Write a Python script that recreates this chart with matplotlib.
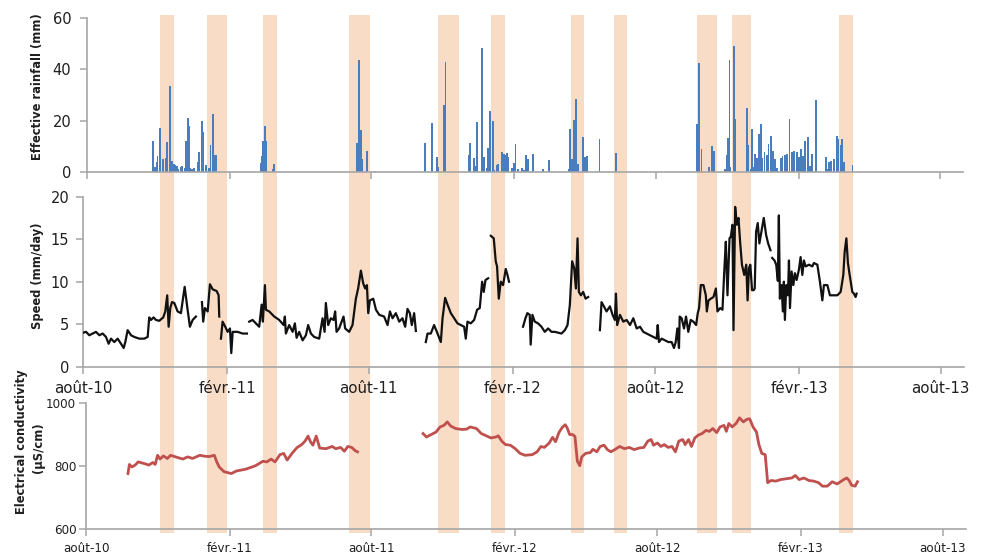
import numpy as np
import matplotlib
matplotlib.use('Agg')
import matplotlib.pyplot as plt
import matplotlib.dates as mdates
from matplotlib.patches import Rectangle
from matplotlib.transforms import blended_transform_factory

plt.rcParams['font.family'] = ['DejaVu Sans']

nan = np.nan
START = np.datetime64('2010-08-01')
SPAN_DAYS = 1126

tick_dates = ['2010-08-01', '2011-02-01', '2011-08-01', '2012-02-01',
              '2012-08-01', '2013-02-01', '2013-08-01']
tick_labels = ['août-10', 'févr.-11', 'août-11', 'févr.-12',
               'août-12', 'févr.-13', 'août-13']

# Highlighted periods (days since 2010-08-01)
band_start = [95, 155, 226, 337, 451, 518, 620, 676, 782, 826, 963]
band_end = [113, 181, 244, 363, 477, 536, 637, 692, 808, 851, 982]

# Effective rainfall (days since 2010-08-01, mm)
rain_days = [85, 88, 90, 91, 94, 98, 102, 103, 107, 110, 112, 114, 116, 118, 121, 123, 126, 128,
             130, 131, 133, 135, 138, 143, 144, 145, 148, 150, 153, 157, 159, 162, 164, 166,
             224, 225, 227, 229, 230, 239, 241, 347, 350, 352, 354, 360, 371,
             435, 444, 450, 451, 459, 461, 491, 493, 498, 500, 502, 508, 510, 514, 516, 518,
             522, 524, 527, 528, 534, 536, 538, 540, 542, 547, 549, 551, 554, 559, 562, 565,
             567, 574, 586, 594, 620, 621, 624, 626, 629, 631, 638, 640, 643, 659, 680,
             784, 787, 790, 800, 803, 804, 806, 820, 823, 824, 826, 827, 832, 833, 849, 850,
             853, 855, 857, 859, 861, 864, 866, 868, 871, 874, 876, 879, 882, 884, 887, 892,
             894, 897, 900, 903, 906, 909, 913, 915, 918, 920, 923, 927, 929, 932, 937, 950,
             952, 954, 956, 960, 964, 966, 969, 971, 973, 984]
rain_mm = [12.2, 2, 4, 6.2, 17.1, 5, 5.6, 11.6, 33.4, 4.4, 3, 2.7, 2.3, 1.3, 1.8, 2.3, 1.5, 12,
           20.9, 18, 1.4, 1, 1.7, 3.8, 7.7, 6.9, 20, 15.6, 2.7, 1.4, 10.6, 22.5, 6.5, 6.5,
           3.6, 6.1, 12, 17.9, 12, 1, 3, 11.2, 43.5, 16.2, 5, 8.2, 0.4,
           11.2, 19.1, 5.7, 2, 26.1, 43, 6.5, 11.4, 5.5, 2.3, 19.4, 48.3, 6, 1.6, 9.2, 23.9,
           19.7, 0.8, 2.7, 3.1, 7.7, 7, 6.5, 7.4, 6, 1.6, 3.4, 10.8, 1.3, 1.6, 0.8, 6.5,
           5.2, 6.9, 1, 4.5, 1.2, 16.8, 5, 20.3, 28.6, 3.2, 13.8, 6, 6.2, 12.9, 7.3,
           18.7, 42.3, 8.8, 1.8, 10.3, 3.9, 8.3, 1.3, 6.8, 13.1, 43.5, 2.1, 49, 20.5, 24.9, 10.5,
           1, 16.9, 2.1, 6.9, 5.6, 14.9, 18.6, 5.3, 7.9, 6.6, 10.8, 13.9, 8.2, 4.9, 1.6, 5.5,
           6.4, 6.5, 7, 20.5, 7.9, 8.3, 7.8, 6, 8.8, 6.2, 11.9, 13.5, 2.3, 7, 27.9, 5.8,
           1.2, 3.9, 4.4, 5.1, 14.2, 12.7, 10.6, 12.9, 3.9, 2.7]

# Speed (days since 2010-08-01, mm/day); nan marks data gaps
speed_days = [0, 3.5, 7.7, 12, 16.2, 20.5, 24.8, 29, 32.4, 35.4, 39.6, 43.9, 48.2, 51.6, 53.7,
              56.7, 61, 65.2, 71.6, 78, 82.3, 84.3, 86.5, 89.9, 92.9, 97.1, 102.2, 104.8, 107.3,
              109.1, 111.2, 113.4, 116.3, 120.6, 124.8, 129.6, 132.5, 136.3, 139.8, 144, nan,
              151.7, 153.3, 155.5, 159, 161.9, 165.4, 170.5, 173, 173.8, nan,
              176, 178.1, 181.5, 184.5, 187.5, 189.2, 191, 197.3, 203.7, 209.2, nan,
              212.1, 216.4, 220.7, 224.9, 228, 229.6, 232.2, 233.5, 237.7, 244.1, 250.5, 256.1,
              257.7, 259, 263.2, 267.6, 270.5, 272.7, 276, 280.4, 284.6, 287.5, 291, 295.2,
              301.6, 305.9, 308.5, 310.1, 313.1, 316.5, 320, 322, 323.8, 327.1, 332.7, 334.8,
              339.9, 344.2, 348.5, 351.4, 354.9, 357.9, 360.4, 362.6, 364.3, 366.4, 370.7, 374.2,
              378.4, 384.6, 389, 392, 395.4, 399.6, 403.9, 408.1, 411.5, 414.5, 417.5, 420, 423,
              425.2, nan,
              437.9, 440.1, 444.3, 448.5, 452.9, 457.1, 459.3, 462.6, 465.7, 469.9, 474.2, 478.4,
              482.7, 486.9, 489, 491.2, 495.4, 499.7, 503.5, 506.9, 509.9, 512, 514.2, 517.6, nan,
              521, 524.8, 527.3, 529, 531.2, 533.7, 536.7, 540.1, 542.3, 544.3, nan,
              562.2, 565.3, 567.8, 570.8, 572, 574.2, 577.2, 581.4, 585.8, 590, 594.3, 598.6,
              602.9, 607.1, 611.4, 615.7, 619.1, 622.1, 625, 627.6, 629.8, 631.9, 633.6, 636.2,
              639.1, 642.2, 645.5, nan,
              660.5, 662.6, 665.6, 669, 673.3, 676.7, 679.6, 681, 682.6, 686.1, 690.4, 694.7,
              699, 703.2, 707.5, 711.8, 716, 720.3, 724.5, 728.8, 733.1, 734.4, 736, 739.5,
              743.7, 748, 752.2, 755.2, 757.4, 759.5, 761.6, 762.5, 765, 768, 770.6, 773.5,
              776.6, 780, 783.5, 785.6, 787.3, 789.5, 792.9, 795.9, 797.2, 799.3, 802.3, 805.7,
              808.8, 810.8, 814.3, 817.2, 819.8, 821.5, 823.6, 826.2, 827.9, 830, 831.3, 833.4,
              835.6, 837.7, 839.9, 842.1, 845, 847.6, 849.3, 851.1, 852.8, 855, 857.1, 858.4,
              860.2, 862.3, 864.4, 866.6, 870, 873, 875.6, 878.6, nan,
              880.7, 883.7, 885.9, 888, 889.3, 890.6, 892.7, 894.4, 895.7, 897, 898.8, 900.9,
              902.2, 903.5, 905.6, 907.8, 909.8, 912, 914.9, 917.1, 919.3, 921.3, 923.5, 927.8,
              932.1, 934.1, 938.5, 941.8, 944.9, 946.9, 951.3, 954.6, 959.7, 964.1, 968.3, 971.7,
              973.4, 975.6, 977.6, 979.8, 981.9, 983.2, 985.2, 987.4, 988.7]
speed_mmday = [4.0, 4.1, 3.7, 3.9, 4.1, 3.7, 3.9, 3.5, 2.7, 3.3, 2.9, 3.3, 2.7, 2.2, 2.9,
               4.3, 3.7, 3.5, 3.3, 3.3, 3.5, 5.8, 5.5, 5.8, 5.5, 5.4, 5.8, 6.5, 8.4,
               4.7, 6.9, 7.6, 7.5, 6.5, 6.3, 9.4, 7.3, 4.7, 5.5, 5.9, nan,
               7.6, 5.3, 6.9, 6.5, 9.7, 9.1, 8.9, 8.4, 5.9, nan,
               3.3, 5.3, 4.7, 4.1, 4.5, 1.6, 4.1, 4.1, 3.9, 3.9, nan,
               5.3, 5.5, 5.1, 4.7, 7.3, 5.3, 9.6, 6.7, 6.5, 5.9, 5.5, 4.9,
               5.9, 3.9, 4.9, 4.1, 5.1, 3.4, 4.1, 3.1, 3.7, 4.9, 3.9, 3.5,
               3.3, 5.7, 4.1, 7.5, 4.9, 5.7, 5.5, 6.5, 4.1, 4.5, 5.9, 4.5,
               4.1, 4.9, 8.0, 9.2, 11.3, 9.8, 9.2, 9.6, 6.3, 7.8, 8.0, 6.7,
               6.1, 5.9, 4.9, 6.5, 5.7, 6.3, 5.3, 5.7, 4.7, 6.8, 6.3, 4.9, 6.3,
               4.2, nan,
               2.9, 3.9, 3.9, 4.9, 3.9, 2.9, 5.7, 8.1, 7.3, 6.3, 5.7, 5.1,
               4.9, 4.7, 3.3, 5.3, 5.1, 5.5, 6.7, 6.9, 10.0, 8.8, 10.2, 10.4, nan,
               15.4, 15.1, 12.4, 11.8, 8.0, 10.0, 9.6, 11.5, 10.8, 10.0, nan,
               4.7, 5.7, 6.3, 6.1, 2.6, 6.1, 5.3, 5.1, 4.7, 4.1, 4.5, 4.1,
               4.1, 4.0, 3.9, 4.3, 4.9, 7.3, 12.4, 11.6, 9.2, 15.1, 8.8, 8.4,
               8.8, 8.0, 8.2, nan,
               4.3, 7.6, 7.1, 6.5, 7.1, 6.1, 5.5, 8.6, 4.9, 6.1, 5.3, 5.5,
               4.9, 5.7, 4.5, 4.7, 4.1, 3.9, 3.7, 3.5, 3.3, 4.9, 2.9, 3.3,
               3.1, 2.9, 2.9, 2.2, 2.9, 4.5, 2.2, 5.9, 5.7, 4.5, 5.9, 4.1,
               5.5, 5.3, 4.9, 6.3, 6.9, 9.6, 9.6, 8.4, 6.5, 7.8, 8.0, 8.2,
               9.2, 6.5, 6.9, 6.7, 11.8, 14.7, 8.4, 15.1, 15.3, 16.7, 4.3, 18.8,
               16.7, 17.5, 14.5, 12.0, 10.8, 12.0, 7.8, 11.6, 12.0, 9.0, 9.0, 9.2,
               15.9, 16.9, 14.5, 15.7, 17.5, 15.5, 14.5, 13.7, nan,
               12.8, 12.5, 12.0, 10.1, 17.8, 8.0, 9.6, 6.5, 10.0, 5.5, 9.6, 8.4,
               12.5, 6.9, 11.2, 9.6, 11.0, 10.2, 11.4, 12.9, 10.8, 12.5, 11.8, 12.0,
               11.8, 12.2, 12.0, 10.0, 7.8, 9.6, 9.6, 8.4, 8.4, 8.4, 8.8, 10.8,
               13.5, 15.1, 12.2, 10.8, 9.6, 8.8, 8.6, 8.2, 8.6]

# Electrical conductivity (days since 2010-08-01, uS/cm)
ec_days = [53.7, 55.5, 58.7, 63, 66.7, 74.2, 80.4, 85.4, 88.5, 91.6, 94.7, 99, 104, 108.3,
           114.5, 123.9, 130.1, 136.3, 145.6, 151.8, 158, 164.2, 167.3, 170.4, 176.6, 186,
           192.2, 204.6, 217, 226.3, 231.3, 236.9, 241.8, 245, 248.1, 253, 257.4, 263.6,
           269.8, 276, 280.3, 284.1, 287.2, 290.3, 294.6, 299, 307, 315.1, 319.5, 325.7,
           330.6, 335, 340, 344.3, 347.4, nan,
           431.3, 435.6, 441.8, 448, 453, 458, 462.3, 466.6, 472.9, 480.9, 487.1, 491.5,
           499.6, 505.8, 512, 518.2, 524.4, 527.5, 531.9, 536.8, 543, 549.2, 555.5, 561.7,
           571, 577.2, 582.1, 586.5, 592.7, 597, 600.8, 605.1, 609.5, 613.2, 615.7, 618.8,
           622.5, 625.6, 628.7, 631.8, 634.3, 639.3, 645.5, 648.6, 653.6, 657.9, 662.9,
           667.2, 671.6, 676.5, 682.8, 689, 695.2, 701.4, 707.6, 713.8, 718.8, 723.1, 726.2,
           731.2, 735.5, 739.9, 744.9, 749.8, 754.2, 758.5, 763.5, 766.6, 771, 774.7, 779,
           783.4, 788.3, 793.3, 797.6, 802, 807, 811.3, 816.3, 819.4, 822.5, 826.8, 831.8,
           836.2, 841.1, 845.5, 849.2, 853.5, 857.9, 861, 864.7, 869.1, 872.2, 876.5, 882.7,
           888.9, 897, 903.2, 907.6, 912.5, 918.7, 924.9, 931.2, 937.4, 942.3, 948.5, 954.8,
           961, 965.3, 969.7, 973.4, 976.5, 979.6, 984, 987.1]
ec_uscm = [776, 805, 797, 803, 813, 808, 803, 811, 805, 834, 822, 832, 824, 834,
           829, 822, 829, 824, 834, 831, 830, 834, 813, 797, 782, 776,
           784, 790, 801, 815, 813, 822, 813, 824, 836, 840, 819, 840,
           858, 868, 879, 895, 877, 866, 895, 857, 855, 862, 855, 859,
           847, 862, 859, 849, 845, nan,
           903, 892, 900, 908, 924, 929, 940, 927, 919, 916, 917, 924,
           919, 903, 896, 889, 892, 896, 879, 868, 866, 855, 840, 834,
           836, 845, 862, 859, 873, 891, 877, 906, 923, 931, 921, 900,
           900, 894, 815, 801, 829, 840, 843, 853, 845, 862, 866,
           852, 845, 852, 862, 855, 859, 852, 857, 859, 879, 884, 866,
           873, 862, 868, 859, 862, 845, 879, 884, 868, 884, 862, 889,
           898, 903, 913, 910, 919, 906, 924, 929, 910, 935, 924, 935,
           953, 940, 948, 950, 924, 908, 868, 840, 836, 747, 754, 752,
           757, 760, 762, 770, 757, 762, 754, 752, 747, 736, 736, 750,
           743, 750, 757, 762, 754, 739, 736, 750]

W, H = 985, 556
fig = plt.figure(figsize=(W / 100, H / 100), dpi=100)

def px_axes(left, right, bottom, top):
    return fig.add_axes([left / W, 1 - bottom / H, (right - left) / W, (bottom - top) / H])

ax1 = px_axes(86.7, 963, 172, 18)
ax2 = px_axes(83.3, 964, 366.7, 196.7)
ax3 = px_axes(86, 966, 529, 403)

x0 = mdates.date2num(START)
def to_x(days):
    return x0 + np.asarray(days, dtype=float)

tick_x = mdates.date2num(np.array(tick_dates, dtype='datetime64[D]'))
grey = '#a6a6a6'
txt = '#1f1f1f'

for ax in (ax1, ax2, ax3):
    ax.set_facecolor('none')
    ax.set_xlim(x0, x0 + SPAN_DAYS)
    ax.set_xticks(tick_x)
    for s in ('top', 'right'):
        ax.spines[s].set_visible(False)
    for s in ('left', 'bottom'):
        ax.spines[s].set_color(grey)
        ax.spines[s].set_linewidth(1.2)
    ax.tick_params(axis='both', direction='out', length=5, width=1.1, color=grey,
                   labelcolor=txt)

# Bands spanning all panels
trans = blended_transform_factory(ax3.transData, fig.transFigure)
for s, e in zip(band_start, band_end):
    r = Rectangle((x0 + s, 23 / H), e - s, (541 - 23) / H, transform=trans,
                  facecolor='#f8dcc6', edgecolor='none', zorder=-1)
    fig.add_artist(r)

# Top: rainfall
ax1.bar(to_x(rain_days), rain_mm, width=2.4, color='#4a7dbd', linewidth=0, zorder=2)
ax1.set_ylim(0, 60)
ax1.set_yticks([0, 20, 40, 60])
ax1.set_xticklabels([])
ax1.tick_params(axis='y', labelsize=10.5, pad=6)

# Middle: speed
ax2.plot(to_x(speed_days), speed_mmday, color='#111111', lw=1.6, zorder=3)
ax2.set_ylim(0, 20)
ax2.set_yticks([0, 5, 10, 15, 20])
ax2.set_xticklabels(tick_labels)
ax2.tick_params(axis='y', labelsize=10.5, pad=5)
ax2.tick_params(axis='x', labelsize=10.8, pad=5)

# Bottom: EC
ax3.plot(to_x(ec_days), ec_uscm, color='#c0504d', lw=2.0, zorder=3)
ax3.set_ylim(600, 1000)
ax3.set_yticks([600, 800, 1000])
ax3.set_xticklabels(tick_labels)
ax3.tick_params(axis='y', labelsize=8.6, pad=2)
ax3.tick_params(axis='x', labelsize=8.6, pad=4)

lab = dict(rotation=90, ha='center', va='center', fontsize=8.3, fontweight='bold', color=txt)
fig.text(38 / W, 1 - 87 / H, 'Effective rainfall (mm)', **lab)
fig.text(37 / W, 1 - 276 / H, 'Speed (mm/day)', **lab)
fig.text(22 / W, 1 - 442 / H, 'Electrical conductivity', **lab)
fig.text(39 / W, 1 - 448 / H, '(µS/cm)', **lab)

fig.savefig('out.png', dpi=100)
